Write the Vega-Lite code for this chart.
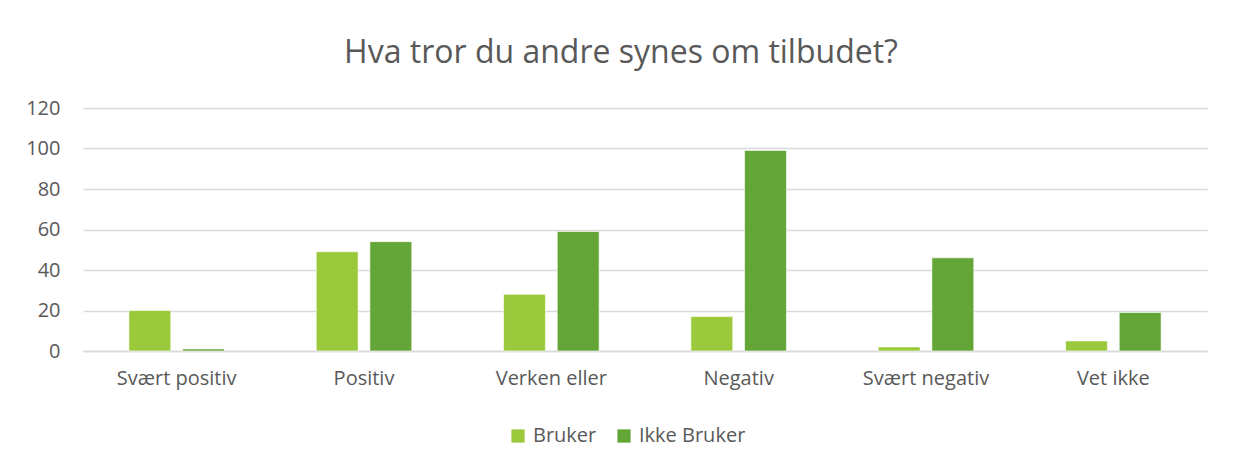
{
  "$schema": "https://vega.github.io/schema/vega-lite/v6.json",
  "width": 1124,
  "height": 243,
  "autosize": {"type": "none"},
  "padding": {"left": 83, "top": 108, "right": 29, "bottom": 119},
  "background": "white",
  "title": {
    "text": "Hva tror du andre synes om tilbudet?",
    "font": "Open Sans",
    "fontSize": 32,
    "fontWeight": "normal",
    "color": "#595959",
    "anchor": "middle",
    "dx": -24,
    "offset": 28
  },
  "data": {
    "values": [
      {"kategori": "Svært positiv", "gruppe": "Bruker", "antall": 20},
      {"kategori": "Svært positiv", "gruppe": "Ikke Bruker", "antall": 1},
      {"kategori": "Positiv", "gruppe": "Bruker", "antall": 49},
      {"kategori": "Positiv", "gruppe": "Ikke Bruker", "antall": 54},
      {"kategori": "Verken eller", "gruppe": "Bruker", "antall": 28},
      {"kategori": "Verken eller", "gruppe": "Ikke Bruker", "antall": 59},
      {"kategori": "Negativ", "gruppe": "Bruker", "antall": 17},
      {"kategori": "Negativ", "gruppe": "Ikke Bruker", "antall": 99},
      {"kategori": "Svært negativ", "gruppe": "Bruker", "antall": 2},
      {"kategori": "Svært negativ", "gruppe": "Ikke Bruker", "antall": 46},
      {"kategori": "Vet ikke", "gruppe": "Bruker", "antall": 5},
      {"kategori": "Vet ikke", "gruppe": "Ikke Bruker", "antall": 19}
    ]
  },
  "mark": {"type": "bar", "stroke": "white", "strokeWidth": 0.6},
  "encoding": {
    "x": {
      "field": "kategori",
      "type": "nominal",
      "sort": null,
      "title": null,
      "scale": {"paddingInner": 0.49, "paddingOuter": 0.245},
      "axis": {
        "labelAngle": 0,
        "ticks": false,
        "domain": true,
        "domainColor": "#d9d9d9",
        "domainWidth": 1.5,
        "labelFont": "Open Sans",
        "labelFontSize": 20,
        "labelColor": "#595959",
        "labelPadding": 17
      }
    },
    "xOffset": {
      "field": "gruppe",
      "type": "nominal",
      "scale": {"paddingInner": 0.22, "paddingOuter": 0}
    },
    "y": {
      "field": "antall",
      "type": "quantitative",
      "title": null,
      "scale": {"domain": [0, 120], "nice": false},
      "axis": {
        "values": [0, 20, 40, 60, 80, 100, 120],
        "ticks": false,
        "domain": false,
        "grid": true,
        "gridColor": "#d9d9d9",
        "gridWidth": 1.5,
        "labelFont": "Open Sans",
        "labelFontSize": 20,
        "labelColor": "#595959",
        "labelPadding": 23
      }
    },
    "color": {
      "field": "gruppe",
      "type": "nominal",
      "title": null,
      "scale": {"domain": ["Bruker", "Ikke Bruker"], "range": ["#9aca3c", "#63a537"]},
      "legend": {
        "orient": "none",
        "legendX": 425,
        "legendY": 318,
        "padding": 0,
        "direction": "horizontal",
        "symbolType": "square",
        "symbolSize": 175,
        "symbolStrokeWidth": 0,
        "labelFont": "Open Sans",
        "labelFontSize": 20,
        "labelColor": "#595959",
        "labelOffset": 5,
        "columnPadding": 17
      }
    }
  },
  "config": {"view": {"stroke": null}}
}
